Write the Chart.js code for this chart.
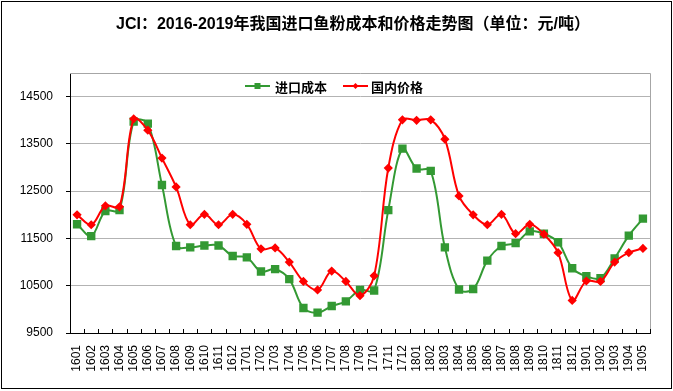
<!DOCTYPE html>
<html><head><meta charset="utf-8">
<script src="https://cdn.jsdelivr.net/npm/chart.js@4"></script>
<style>html,body{margin:0;padding:0;background:#fff}canvas{display:block}</style>
</head><body>
<canvas id="c" width="673" height="391"></canvas>
<script>
const categories = ['1601','1602','1603','1604','1605','1606','1607','1608','1609','1610','1611','1612',
  '1701','1702','1703','1704','1705','1706','1707','1708','1709','1710','1711','1712',
  '1801','1802','1803','1804','1805','1806','1807','1808','1809','1810','1811','1812',
  '1901','1902','1903','1904','1905'];
const importCost = [11800,11550,12080,12100,13970,13930,12630,11340,11310,11350,11350,11130,
  11100,10800,10850,10640,10030,9930,10070,10170,10410,10400,12100,13400,
  12980,12930,11310,10420,10430,11030,11340,11400,11650,11600,11420,10870,
  10700,10660,11080,11560,11920];
const domesticPrice = [12000,11790,12190,12170,14030,13790,13200,12590,11790,12010,11790,12010,
  11800,11280,11300,11000,10590,10410,10810,10590,10290,10710,12990,14010,
  14000,14010,13600,12400,12000,11790,12010,11600,11800,11590,11200,10190,
  10600,10590,11000,11200,11290];
const yTicks = [9500,10500,11500,12500,13500,14500];
const titleText = 'JCI：2016-2019年我国进口鱼粉成本和价格走势图（单位：元/吨）';
const seriesNames = ['进口成本','国内价格'];
const GREEN = '#339933', RED = '#ff0000';

const decor = {
  id: 'decor',
  beforeDraw(chart) {
    const ctx = chart.ctx;
    ctx.save(); ctx.fillStyle = '#fff'; ctx.fillRect(0, 0, chart.width, chart.height); ctx.restore();
  },
  afterDraw(chart) {
    const ctx = chart.ctx, a = chart.chartArea;
    ctx.save();
    ctx.strokeStyle = '#a6a6a6'; ctx.lineWidth = 1;
    ctx.beginPath();
    ctx.moveTo(a.left, Math.round(a.top) + 0.5);
    ctx.lineTo(Math.round(a.right) + 0.5, Math.round(a.top) + 0.5);
    ctx.lineTo(Math.round(a.right) + 0.5, a.bottom);
    ctx.stroke();
    const n = categories.length, w = (a.right - a.left) / n;
    ctx.strokeStyle = '#000';
    ctx.beginPath();
    for (let i = 0; i <= n; i++) {
      const x = Math.round(a.left + i * w) + 0.5;
      ctx.moveTo(x, a.bottom); ctx.lineTo(x, a.bottom - 4);
    }
    ctx.stroke();
    ctx.fillStyle = '#000';
    ctx.font = 'bold 16px "Liberation Sans", "Noto Sans CJK SC", sans-serif';
    ctx.textAlign = 'center'; ctx.textBaseline = 'middle';
    ctx.fillText(titleText, 353, 25);
    const ly = 86;
    const items = [
      {x0: 245, x1: 270, color: GREEN, style: 'rect', tx: 275, text: seriesNames[0]},
      {x0: 343, x1: 368, color: RED, style: 'diamond', tx: 371, text: seriesNames[1]}
    ];
    ctx.font = 'bold 13px "Noto Sans CJK SC", sans-serif';
    ctx.textAlign = 'left';
    items.forEach(it => {
      ctx.strokeStyle = it.color; ctx.fillStyle = it.color; ctx.lineWidth = 2;
      ctx.beginPath(); ctx.moveTo(it.x0, ly); ctx.lineTo(it.x1, ly); ctx.stroke();
      const cx = (it.x0 + it.x1) / 2;
      ctx.beginPath();
      if (it.style === 'rect') ctx.rect(cx - 3, ly - 3, 6, 6);
      else { ctx.moveTo(cx, ly - 3); ctx.lineTo(cx + 3, ly); ctx.lineTo(cx, ly + 3); ctx.lineTo(cx - 3, ly); ctx.closePath(); }
      ctx.fill();
      ctx.fillStyle = '#000';
      ctx.fillText(it.text, it.tx, ly + 1);
    });
    ctx.strokeStyle = '#000'; ctx.lineWidth = 1;
    ctx.strokeRect(1.5, 1.5, 670, 387);
    ctx.restore();
  }
};

new Chart(document.getElementById('c'), {
  type: 'line',
  data: {
    labels: categories,
    datasets: [
      {label: seriesNames[0], data: importCost, borderColor: GREEN, backgroundColor: GREEN,
       borderWidth: 2, pointStyle: 'rect', pointRadius: 4.5, pointHoverRadius: 4.5,
       tension: 0.35, order: 2},
      {label: seriesNames[1], data: domesticPrice, borderColor: RED, backgroundColor: RED,
       borderWidth: 2, pointStyle: 'rectRot', pointRadius: 3.2, pointHoverRadius: 3.2,
       tension: 0.35, order: 1}
    ]
  },
  options: {
    responsive: false,
    animation: false,
    devicePixelRatio: 1,
    layout: {padding: {top: 73, right: 23, left: 0, bottom: 0}},
    plugins: {legend: {display: false}, title: {display: false}, tooltip: {enabled: false}},
    scales: {
      x: {
        offset: true,
        grid: {display: true, drawOnChartArea: false, drawTicks: false},
        border: {color: '#000', width: 1},
        ticks: {autoSkip: false, minRotation: 90, maxRotation: 90, padding: 12,
                color: '#000', font: {family: '"Liberation Sans", Arial, sans-serif', size: 12}},
        afterFit(s) { s.height = 58; }
      },
      y: {
        min: 9500, max: 15000,
        afterBuildTicks(s) { s.ticks = yTicks.map(v => ({value: v})); },
        grid: {color: '#b3b3b3', tickColor: '#000', tickLength: 4, drawTicks: true},
        border: {color: '#000', width: 1},
        ticks: {padding: 13, color: '#000',
                font: {family: '"Liberation Sans", Arial, sans-serif', size: 12},
                callback: v => String(v)},
        afterFit(s) { s.width = 70; }
      }
    }
  },
  plugins: [decor]
});
</script>
</body></html>
